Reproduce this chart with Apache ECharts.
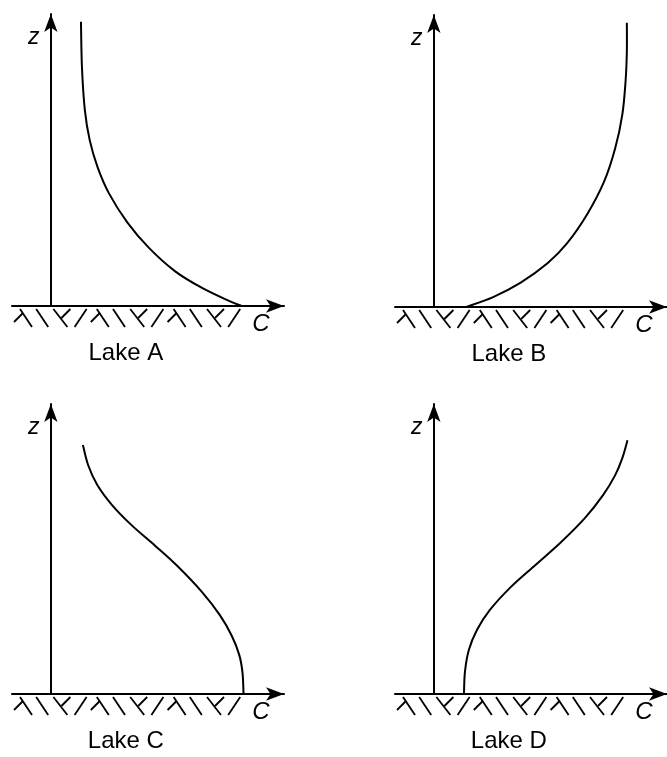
<!DOCTYPE html>
<html>
<head>
<meta charset="utf-8">
<script src="https://cdn.jsdelivr.net/npm/echarts@6/dist/echarts.min.js"></script>
<style>
  html, body { margin: 0; padding: 0; background: #fff; }
  #chart { width: 667px; height: 757px; }
</style>
</head>
<body>
<div id="chart"></div>
<script>
// Concentration profiles C(z) above the lake bed, one panel per lake
const lakeNames = ['Lake A', 'Lake B', 'Lake C', 'Lake D'];

const lakeA_C = [0.93, 0.96, 1.05, 1.20, 1.44, 1.79, 2.36, 3.03, 3.83, 4.67, 5.50, 5.90];
const lakeA_z = [9.44, 7.94, 6.51, 5.51, 4.62, 3.75, 2.78, 1.93, 1.16, 0.60, 0.17, 0];

const lakeB_C = [0.99, 1.83, 2.67, 3.51, 4.11, 4.74, 5.26, 5.60, 5.82, 5.92, 5.96, 5.96];
const lakeB_z = [0, 0.33, 0.80, 1.45, 2.11, 3.09, 4.17, 5.27, 6.39, 7.49, 8.48, 9.44];

const lakeC_C = [0.99, 1.15, 1.43, 1.89, 2.50, 3.21, 3.90, 4.67, 5.22, 5.59, 5.82, 5.92, 5.95];
const lakeC_z = [8.33, 7.66, 7.00, 6.32, 5.64, 4.97, 4.29, 3.41, 2.64, 1.94, 1.30, 0.70, 0];

const lakeD_C = [0.93, 0.96, 1.08, 1.33, 1.73, 2.35, 3.13, 3.90, 4.67, 5.23, 5.60, 5.82, 5.98];
const lakeD_z = [0, 0.74, 1.47, 2.14, 2.81, 3.55, 4.31, 5.05, 5.89, 6.66, 7.32, 7.89, 8.49];

const axisNames = ['C', 'z'];

// Sediment hatching under each x axis: a repeating run of four stroke glyphs
const groundPattern = ['hook', 'back', 'fork', 'slash'];
const groundGlyphCount = 12;

const profiles = [
  [lakeA_C, lakeA_z],
  [lakeB_C, lakeB_z],
  [lakeC_C, lakeC_z],
  [lakeD_C, lakeD_z]
];

const X_MIN = -1.2, X_MAX = 7.2, Y_MIN = 0, Y_MAX = 9.7;

const grids = [
  { left: 12,  top: 14,  width: 272, height: 292 },
  { left: 395, top: 15,  width: 272, height: 292 },
  { left: 12,  top: 404, width: 272, height: 290 },
  { left: 395, top: 404, width: 272, height: 290 }
];

const FONT = 'Liberation Sans';

// stroke segments per glyph, px offsets from glyph centre / hatch top
const glyphStrokes = {
  hook:  [[-3, 0, 9, 18], [-9, 13, 0, 4]],
  back:  [[-6, 0, 6, 18]],
  fork:  [[-8, 0, 6, 18], [9, 0, 0, 9]],
  slash: [[6, 0, -6, 18]]
};

function zip(a, b) { return a.map((v, i) => [v, b[i]]); }

// Catmull-Rom spline through pixel points, as an SVG path string
function splinePath(p) {
  let d = 'M' + p[0][0] + ' ' + p[0][1];
  for (let i = 0; i < p.length - 1; i++) {
    const p0 = p[Math.max(i - 1, 0)], p1 = p[i], p2 = p[i + 1], p3 = p[Math.min(i + 2, p.length - 1)];
    const c1x = p1[0] + (p2[0] - p0[0]) / 6, c1y = p1[1] + (p2[1] - p0[1]) / 6;
    const c2x = p2[0] - (p3[0] - p1[0]) / 6, c2y = p2[1] - (p3[1] - p1[1]) / 6;
    d += ' C' + c1x + ' ' + c1y + ' ' + c2x + ' ' + c2y + ' ' + p2[0] + ' ' + p2[1];
  }
  return d;
}

const xAxes = [], yAxes = [], series = [], graphics = [];

grids.forEach((g, k) => {
  const axisLine = {
    show: true,
    onZero: true,
    symbol: ['none', 'arrow'],
    symbolSize: [10, 18],
    lineStyle: { color: '#000', width: 2 }
  };
  xAxes.push({
    gridIndex: k, type: 'value', min: X_MIN, max: X_MAX,
    axisLine: axisLine, axisTick: { show: false }, axisLabel: { show: false },
    splitLine: { show: false }
  });
  yAxes.push({
    gridIndex: k, type: 'value', min: Y_MIN, max: Y_MAX,
    axisLine: axisLine, axisTick: { show: false }, axisLabel: { show: false },
    splitLine: { show: false }
  });

  const profile = zip(profiles[k][0], profiles[k][1]);
  series.push({
    type: 'custom',
    xAxisIndex: k, yAxisIndex: k,
    data: profile,
    clip: false,
    silent: true,
    animation: false,
    renderItem: function (params, api) {
      // the whole profile is one smooth stroke, emitted with the first item
      if (params.dataIndex !== 0) return null;
      const pts = profile.map(d => api.coord(d));
      return {
        type: 'path',
        shape: { pathData: splinePath(pts) },
        style: { stroke: '#000', fill: null, lineWidth: 2 }
      };
    }
  });

  const hatchData = [];
  for (let i = 0; i < groundGlyphCount; i++) hatchData.push([i, 0]);
  series.push({
    type: 'custom',
    xAxisIndex: k, yAxisIndex: k,
    data: hatchData,
    clip: false,
    silent: true,
    animation: false,
    renderItem: function (params, api) {
      const i = api.value(0);
      const base = api.coord([X_MIN, 0]);
      const cx = base[0] + 11 + i * 19.2;
      const y0 = base[1] + 3;
      const strokes = glyphStrokes[groundPattern[i % groundPattern.length]];
      return {
        type: 'group',
        children: strokes.map(s => ({
          type: 'line',
          shape: { x1: cx + s[0], y1: y0 + s[1], x2: cx + s[2], y2: y0 + s[3] },
          style: { stroke: '#000', lineWidth: 1.8 }
        }))
      };
    }
  });

  // text positions follow the axis origin of each panel
  const originX = g.left + (0 - X_MIN) / (X_MAX - X_MIN) * g.width;
  const originY = g.top + g.height;
  graphics.push({
    type: 'text', x: originX - 17, y: g.top + 24,
    style: {
      text: axisNames[1], fontSize: 23, fontStyle: 'italic', fontFamily: FONT,
      fill: '#000', align: 'center', verticalAlign: 'middle'
    }
  });
  graphics.push({
    type: 'text', x: originX + 210, y: originY + 18,
    style: {
      text: axisNames[0], fontSize: 24, fontStyle: 'italic', fontFamily: FONT,
      fill: '#000', align: 'center', verticalAlign: 'middle'
    }
  });
  graphics.push({
    type: 'text', x: originX + 75, y: originY + 47,
    style: {
      text: lakeNames[k], fontSize: 24, fontFamily: FONT,
      fill: '#000', align: 'center', verticalAlign: 'middle'
    }
  });
});

const chart = echarts.init(document.getElementById('chart'), null, { renderer: 'canvas' });
chart.setOption({
  animation: false,
  backgroundColor: '#fff',
  grid: grids,
  xAxis: xAxes,
  yAxis: yAxes,
  series: series,
  graphic: graphics
});
</script>
</body>
</html>
